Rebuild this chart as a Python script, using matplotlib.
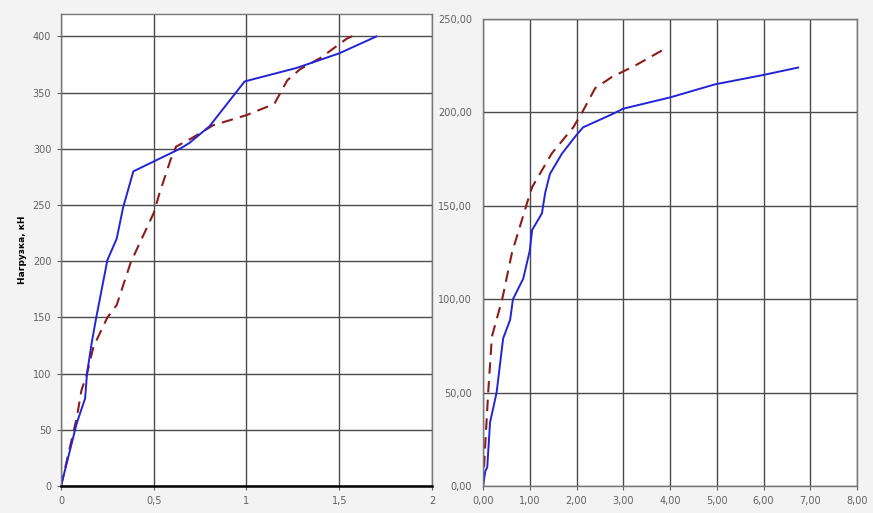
import numpy as np
import matplotlib
matplotlib.use('Agg')
import matplotlib.pyplot as plt
from matplotlib.ticker import FuncFormatter

# Left chart: load (kN) vs displacement
left_blue_x = [0, 0.085, 0.13, 0.14, 0.165, 0.19, 0.25, 0.30, 0.335, 0.39, 0.49, 0.64, 0.69, 0.80, 0.99, 1.27, 1.50, 1.70]
left_blue_y = [0, 56, 78, 100, 127, 150, 201, 220, 248, 280, 288, 300, 305, 320, 360, 372, 385, 400]
left_red_x = [0, 0.085, 0.11, 0.14, 0.175, 0.25, 0.30, 0.38, 0.39, 0.50, 0.53, 0.59, 0.62, 0.71, 0.82, 1.0, 1.15, 1.22, 1.29, 1.40, 1.54, 1.58]
left_red_y = [0, 61, 85, 100, 124, 150, 161, 201, 204, 243, 260, 290, 302, 310, 321, 330, 340, 361, 371, 381, 398, 401]

# Right chart
right_blue_x = [0, 0.05, 0.09, 0.15, 0.29, 0.43, 0.58, 0.64, 0.86, 1.0, 1.05, 1.26, 1.33, 1.43, 1.69, 1.97, 2.14, 2.76, 3.0, 4.0, 4.96, 5.99, 6.74]
right_blue_y = [0, 8, 10, 34, 50, 79, 89, 100, 111, 126, 137, 146, 157, 167, 178, 187, 192, 199, 202, 208, 215, 220, 224]
right_red_x = [0, 0.04, 0.11, 0.19, 0.41, 0.62, 0.96, 1.05, 1.47, 1.93, 2.12, 2.40, 2.76, 3.25, 3.96]
right_red_y = [0, 19, 50, 80, 100, 125, 153, 160, 178, 192, 200, 213, 219, 225, 235]

left_xticks = [0, 0.5, 1, 1.5, 2]
left_xlabels = ['0', '0,5', '1', '1,5', '2']
left_yticks = [0, 50, 100, 150, 200, 250, 300, 350, 400]
right_xticks = [0, 1, 2, 3, 4, 5, 6, 7, 8]
right_yticks = [0, 50, 100, 150, 200, 250]

blue = '#2323d8'
red = '#8c1c1c'
grid_c = '#4a4a4a'
tick_c = '#606060'

fig = plt.figure(figsize=(8.73, 5.13), dpi=100)
fig.patch.set_facecolor('#f3f3f3')

ax1 = fig.add_axes([0.0699, 0.0526, 0.4249, 0.9201])
ax2 = fig.add_axes([0.5533, 0.0526, 0.4284, 0.9104])

comma = FuncFormatter(lambda v, p: f'{v:.2f}'.replace('.', ','))

for ax in (ax1, ax2):
    ax.set_facecolor('white')
    ax.grid(True, color=grid_c, linewidth=1.0)
    ax.set_axisbelow(True)
    for s in ax.spines.values():
        s.set_color('#777777')
        s.set_linewidth(1.0)
    ax.tick_params(labelsize=7, colors=tick_c, length=3, width=0.8, pad=4)

ax1.spines['bottom'].set_color('black')
ax1.spines['bottom'].set_linewidth(1.8)

ax1.plot(left_red_x, left_red_y, color=red, linewidth=1.5, linestyle=(0, (5.5, 3.5)))
ax1.plot(left_blue_x, left_blue_y, color=blue, linewidth=1.4)
ax1.set_xlim(0, 2)
ax1.set_ylim(0, 420)
ax1.set_xticks(left_xticks)
ax1.set_xticklabels(left_xlabels)
ax1.set_yticks(left_yticks)
ax1.set_ylabel('Нагрузка, кН', fontsize=6.5, fontweight='bold', labelpad=4)

ax2.plot(right_red_x, right_red_y, color=red, linewidth=1.5, linestyle=(0, (5.5, 3.5)))
ax2.plot(right_blue_x, right_blue_y, color=blue, linewidth=1.4)
ax2.set_xlim(0, 8)
ax2.set_ylim(0, 250)
ax2.set_xticks(right_xticks)
ax2.set_yticks(right_yticks)
ax2.xaxis.set_major_formatter(comma)
ax2.yaxis.set_major_formatter(comma)
ax2.tick_params(axis='y', length=0, pad=8)

fig.savefig('out.png', dpi=100, facecolor=fig.get_facecolor())
